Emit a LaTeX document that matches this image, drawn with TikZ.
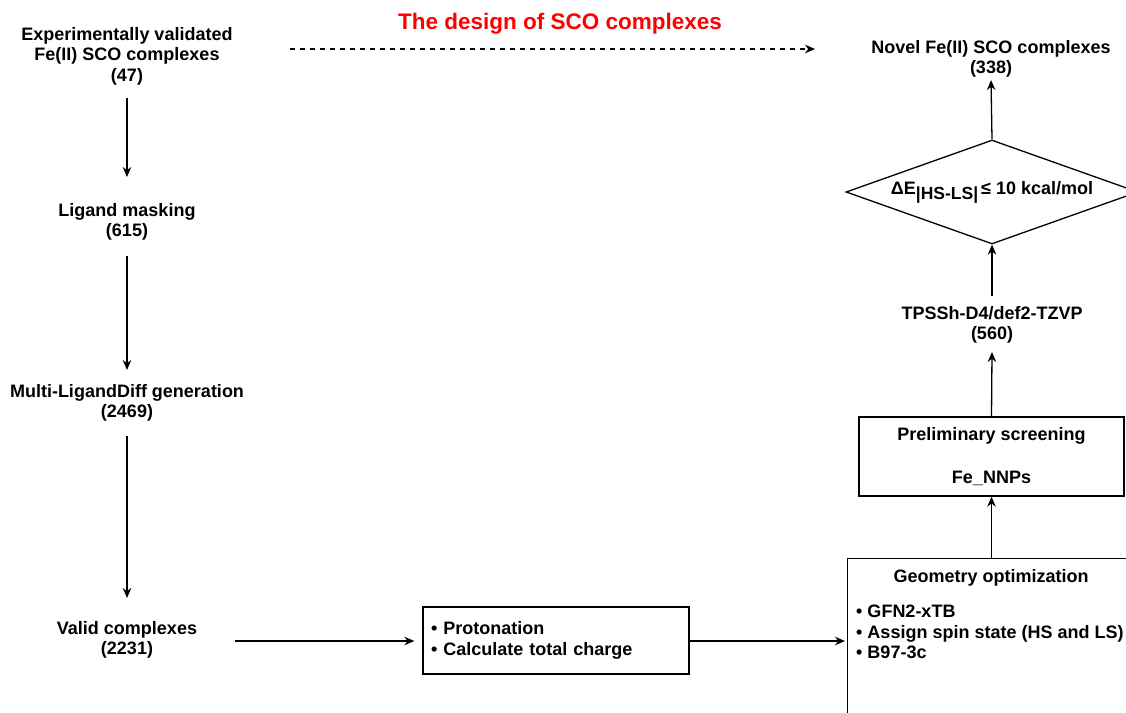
\documentclass[tikz,border=0pt]{standalone}
\usepackage{fontspec}
\setmainfont{Liberation Sans}
\usetikzlibrary{arrows.meta,shapes.geometric}
\begin{document}
\begin{tikzpicture}[x=1pt,y=-1pt,
  lbl/.style={font=\bfseries\fontsize{18}{20.5}\selectfont, align=center, inner sep=0pt},
  boxed/.style={draw, line width=1.3pt, inner sep=0pt},
  arr/.style={line width=1.3pt, -{Stealth[length=10pt,width=8.5pt]}},
]
\useasboundingbox (0,0) rectangle (1126,712);
\clip (0,0) rectangle (1126,712);
\fill[white] (0,0) rectangle (1126,712);

% title
\node[lbl, text={rgb,255:red,255;green,0;blue,0}, font=\bfseries\fontsize{22.5}{26}\selectfont] (title) at (560,24) {The design of SCO complexes};

% left column
\node[lbl] (n1) at (127,56) {Experimentally validated\\Fe(II) SCO complexes\\(47)};
\node[lbl] (n2) at (127,222) {Ligand masking\\(615)};
\node[lbl] (n3) at (127,403) {Multi-LigandDiff generation\\(2469)};
\node[lbl] (n4) at (127,640) {Valid complexes\\(2231)};

% middle box
\node[boxed, lbl, align=left, text width=250pt, minimum height=67pt, inner xsep=8pt] (prot) at (556,640.5)
  {• Protonation\\• Calculate total charge};

% right column
\node[lbl] (novel) at (991,59) {Novel Fe(II) SCO complexes\\(338)};
\node[draw, diamond, line width=1.3pt, minimum width=292pt, minimum height=104pt, inner sep=0pt] (dia) at (992,192) {};
\node[lbl] (diatext) at (dia.center) {ΔE\raisebox{-5pt}{\fontsize{17.5}{17.5}\selectfont|HS-LS|}\,≤ 10 kcal/mol};
\node[lbl] (tpss) at (992,325) {TPSSh-D4/def2-TZVP\\(560)};
\node[boxed, lbl, minimum width=265pt, minimum height=79pt] (pre) at (991.5,456.5)
  {Preliminary screening\\[22pt]Fe\_NNPs};
\node[boxed, minimum width=300pt, minimum height=180pt, anchor=north west] (geo) at (847,558) {};
\node[lbl] (geot) at (991,578) {Geometry optimization};
\node[lbl, align=left, anchor=west] (geol) at (856,632) {• GFN2-xTB\\• Assign spin state (HS and LS)\\• B97-3c};

% dashed connector ends
\coordinate (ds) at (290,49);
\coordinate (de) at (815,49);

% connectors
\draw[arr, dash pattern=on 5pt off 5pt] (ds) -- (de);
\draw[arr] (n1.south |- 0,98) -- (n2.north |- 0,177);
\draw[arr] (n2.south |- 0,256) -- (n3.north |- 0,370);
\draw[arr] (n3.south |- 0,436) -- (n4.north |- 0,598);
\draw[arr] (n4.east |- 0,641) ++(38,0) -- ([xshift=-8pt]prot.west |- 0,641);
\draw[arr] (prot.east |- 0,641) -- ([xshift=-2pt]geo.west |- 0,641);
\draw[arr] (geo.north -| pre.south) -- (pre.south);
\draw[arr] (pre.north) -- (tpss.south |- 0,352);
\draw[arr] (tpss.north |- 0,296) -- (dia.south);
\draw[arr] (dia.north) -- (novel.south |- 0,80);
\end{tikzpicture}
\end{document}
